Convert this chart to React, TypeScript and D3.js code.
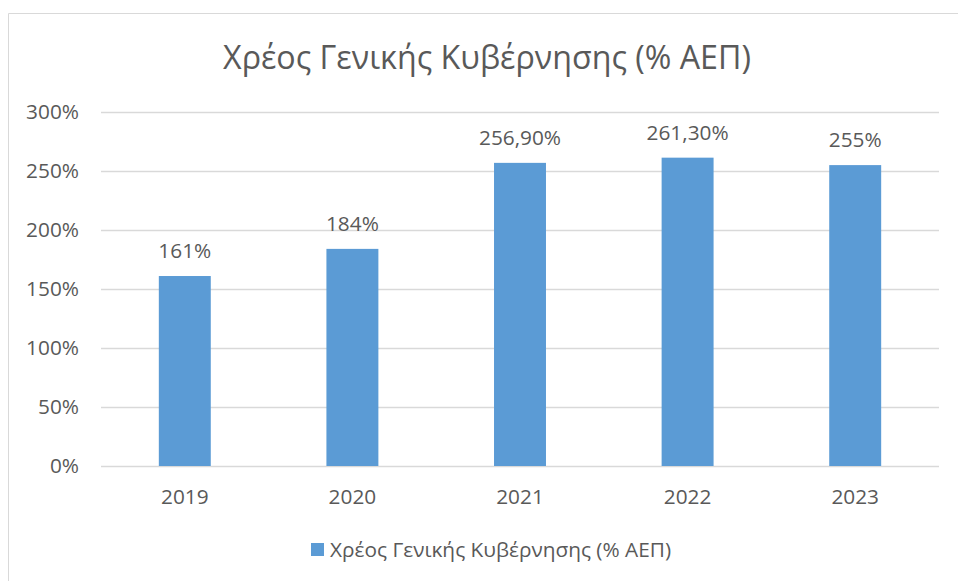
import React from "react";
import * as d3 from "d3";

const categories = ["2019", "2020", "2021", "2022", "2023"];
const values = [161, 184, 256.9, 261.3, 255];
const valueLabels = ["161%", "184%", "256,90%", "261,30%", "255%"];
const yTicks = [0, 50, 100, 150, 200, 250, 300];
const title = "Χρέος Γενικής Κυβέρνησης (% ΑΕΠ)";
const seriesName = "Χρέος Γενικής Κυβέρνησης (% ΑΕΠ)";

const W = 958;
const H = 581;
const FONT = "'Open Sans', sans-serif";
const TEXT = "#595959";
const BAR = "#5B9BD5";
const GRID = "#D9D9D9";

export default function App() {
  const left = 101;
  const right = 939;
  const top = 112;
  const bottom = 466;
  const x = d3.scaleBand<string>().domain(categories).range([left, right]).paddingInner(0.69).paddingOuter(0.345);
  const y = d3.scaleLinear().domain([0, 300]).range([bottom, top]);

  return (
    <svg width={W} height={H} style={{ position: "absolute", left: 0, top: 0, background: "#fff" }} fontFamily={FONT}>
      <rect x={0} y={0} width={W} height={H} fill="#fff" />
      <line x1={8.5} y1={13.5} x2={W} y2={13.5} stroke={GRID} strokeWidth={1} />
      <line x1={8.5} y1={13.5} x2={8.5} y2={H} stroke={GRID} strokeWidth={1} />
      <text x={487} y={69} textAnchor="middle" fontSize={32.2} fill={TEXT}>{title}</text>
      {yTicks.map((t) => (
        <g key={t}>
          <line x1={left} x2={right} y1={Math.round(y(t)) + 0.5} y2={Math.round(y(t)) + 0.5} stroke={GRID} strokeWidth={1.5} />
          <text x={79} y={y(t)} dy="0.35em" textAnchor="end" fontSize={20.8} fill={TEXT}>{t}%</text>
        </g>
      ))}
      {categories.map((c, i) => (
        <g key={c}>
          <rect x={x(c)} y={y(values[i])} width={x.bandwidth()} height={bottom - y(values[i])} fill={BAR} />
          <text x={(x(c) as number) + x.bandwidth() / 2} y={y(values[i]) - 18} textAnchor="middle" fontSize={20.8} fill={TEXT}>{valueLabels[i]}</text>
          <text x={(x(c) as number) + x.bandwidth() / 2} y={504} textAnchor="middle" fontSize={20.8} fill={TEXT}>{c}</text>
        </g>
      ))}
      <rect x={311} y={543} width={13} height={13} fill={BAR} />
      <text x={330} y={557} fontSize={20.8} fill={TEXT}>{seriesName}</text>
    </svg>
  );
}
